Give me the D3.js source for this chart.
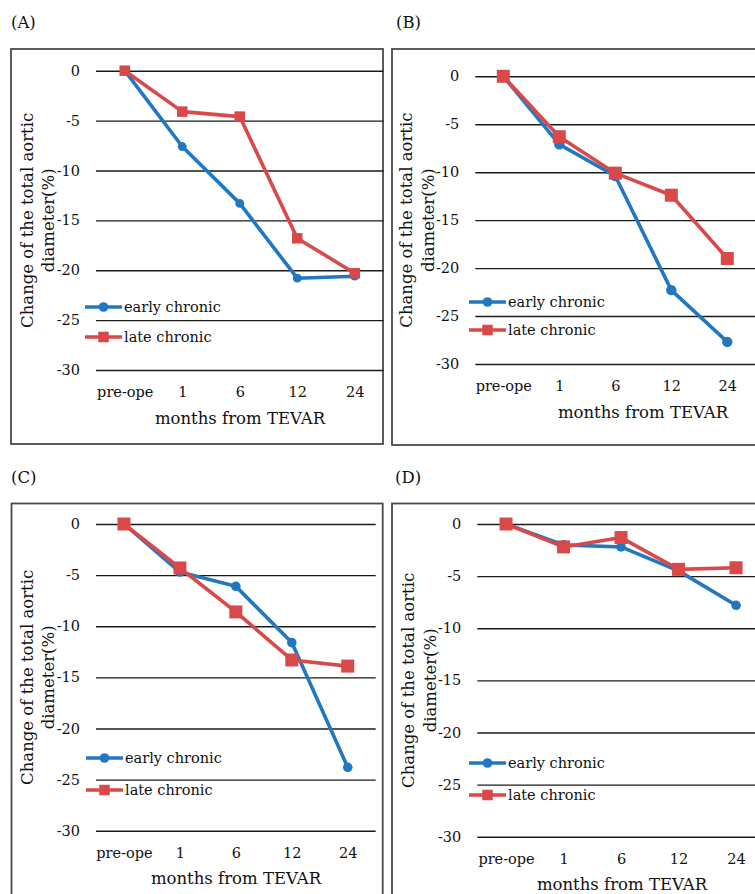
<!DOCTYPE html>
<html>
<head>
<meta charset="utf-8">
<script src="https://cdn.jsdelivr.net/npm/d3@7"></script>
<style>
  html, body { margin: 0; padding: 0; background: #fff; }
  svg { display: block; }
  text { font-family: "DejaVu Serif", "Liberation Serif", serif; fill: #111; }
</style>
</head>
<body>
<div id="chart"></div>
<script>
"use strict";

// categories on the x axis
const months = ["pre-ope", "1", "6", "12", "24"];
const yTicks = [0, -5, -10, -15, -20, -25, -30];
const seriesNames = ["early chronic", "late chronic"];
const panelNames = ["(A)", "(B)", "(C)", "(D)"];

// values (% change)
const earlyA = [0, -7.6, -13.3, -20.8, -20.6];
const lateA  = [0, -4.1, -4.6, -16.8, -20.3];
const earlyB = [0, -7.1, -10.4, -22.3, -27.7];
const lateB  = [0, -6.3, -10.1, -12.4, -19.0];
const earlyC = [0, -4.7, -6.1, -11.6, -23.8];
const lateC  = [0, -4.3, -8.6, -13.3, -13.9];
const earlyD = [0, -2.0, -2.2, -4.5, -7.8];
const lateD  = [0, -2.2, -1.3, -4.35, -4.2];

const allEarly = [earlyA, earlyB, earlyC, earlyD];
const allLate  = [lateA, lateB, lateC, lateD];

const blue = "#2178c0";
const red = "#d9494a";

// panel geometry
const layout = [
  { lx: 11, ly: 28, frame: [11, 49, 383, 444], plot: [96, 383.5, 70.7, 370], titleX: 240, legX: 85, legY: [307, 337], r: 4.4, sq: 10.5 },
  { lx: 396, ly: 28, frame: [392, 49, 800, 445], plot: [475.3, 755.3, 76.3, 364], titleX: 643, legX: 469, legY: [302, 330], r: 5.2, sq: 13 },
  { lx: 11, ly: 483, frame: [11.5, 503.5, 382.7, 960], plot: [96, 375.7, 524, 830.7], titleX: 236, legX: 86, legY: [758, 790], r: 4.8, sq: 13 },
  { lx: 395, ly: 483, frame: [392, 503.5, 800, 960], plot: [477.3, 764.8, 524, 836.7], titleX: 622, legX: 469, legY: [763, 795], r: 4.8, sq: 13 }
];

const svg = d3.select("#chart").append("svg")
    .attr("width", 755)
    .attr("height", 894);

function drawMarker(g, shape, cx, cy, L, color) {
    if (shape === "circle") {
        g.append("circle").attr("cx", cx).attr("cy", cy).attr("r", L.r).attr("fill", color);
    } else {
        g.append("rect")
            .attr("x", cx - L.sq / 2).attr("y", cy - L.sq / 2)
            .attr("width", L.sq).attr("height", L.sq)
            .attr("fill", color);
    }
}

layout.forEach(function(L, i) {
    const g = svg.append("g");
    const [x0, x1, y0, y1] = L.plot;

    // panel label
    g.append("text").attr("x", L.lx).attr("y", L.ly)
        .style("font-size", "16.5px").text(panelNames[i]);

    // frame
    g.append("rect")
        .attr("x", L.frame[0]).attr("y", L.frame[1])
        .attr("width", L.frame[2] - L.frame[0]).attr("height", L.frame[3] - L.frame[1])
        .attr("fill", "none").attr("stroke", "#4a4a4a").attr("stroke-width", 1.8);

    const x = d3.scalePoint().domain(months).range([x0, x1]).padding(0.5);
    const y = d3.scaleLinear().domain([-30, 0]).range([y1, y0]);

    // gridlines + y labels
    const yAxis = g.append("g")
        .attr("transform", "translate(" + x0 + ",0)")
        .call(d3.axisLeft(y).tickValues(yTicks).tickSize(-(x1 - x0)).tickPadding(16)
            .tickFormat(d3.format("d")));
    yAxis.select(".domain").remove();
    yAxis.selectAll(".tick line").attr("stroke", "#1a1a1a").attr("stroke-width", 1.4);
    yAxis.selectAll(".tick text")
        .style("font-size", "14.5px").style("font-family", "DejaVu Serif, serif")
        .attr("fill", "#111")
        .text(function(d) { return d === 0 ? "0" : "-" + Math.abs(d); });

    // x labels
    const xAxis = g.append("g")
        .attr("transform", "translate(0," + (y1 + 22) + ")")
        .call(d3.axisBottom(x).tickSize(0).tickPadding(0));
    xAxis.select(".domain").remove();
    xAxis.selectAll(".tick text")
        .attr("dy", "0.35em")
        .style("font-size", "14.5px").style("font-family", "DejaVu Serif, serif")
        .attr("fill", "#111");

    // axis titles
    g.append("text")
        .attr("x", L.titleX).attr("y", y1 + 48)
        .attr("text-anchor", "middle").attr("dy", "0.35em")
        .style("font-size", "16.5px")
        .text("months from TEVAR");

    const yc = (y0 + y1) / 2;
    const yt = g.append("text")
        .attr("transform", "translate(" + (x0 - 69) + "," + yc + ") rotate(-90)")
        .attr("text-anchor", "middle")
        .style("font-size", "16.5px");
    yt.append("tspan").attr("x", 0).attr("dy", "0.35em").text("Change of the total aortic");
    yt.append("tspan").attr("x", 0).attr("dy", "1.3em").text("diameter(%)");

    // series
    const series = [
        { values: allEarly[i], color: blue, shape: "circle" },
        { values: allLate[i], color: red, shape: "square" }
    ];
    const line = d3.line()
        .x(function(d, k) { return x(months[k]); })
        .y(function(d) { return y(d); });

    series.forEach(function(s) {
        g.append("path")
            .attr("d", line(s.values))
            .attr("fill", "none").attr("stroke", s.color)
            .attr("stroke-width", 3.6).attr("stroke-linejoin", "round");
        s.values.forEach(function(v, k) {
            drawMarker(g, s.shape, x(months[k]), y(v), L, s.color);
        });
    });

    // legend
    series.forEach(function(s, k) {
        const ly = L.legY[k];
        g.append("line")
            .attr("x1", L.legX).attr("x2", L.legX + 37)
            .attr("y1", ly).attr("y2", ly)
            .attr("stroke", s.color).attr("stroke-width", 3.6);
        drawMarker(g, s.shape, L.legX + 18.5, ly, { r: 4.8, sq: 10.5 }, s.color);
        g.append("text")
            .attr("x", L.legX + 39).attr("y", ly).attr("dy", "0.35em")
            .style("font-size", "14.5px")
            .text(seriesNames[k]);
    });
});
</script>
</body>
</html>
